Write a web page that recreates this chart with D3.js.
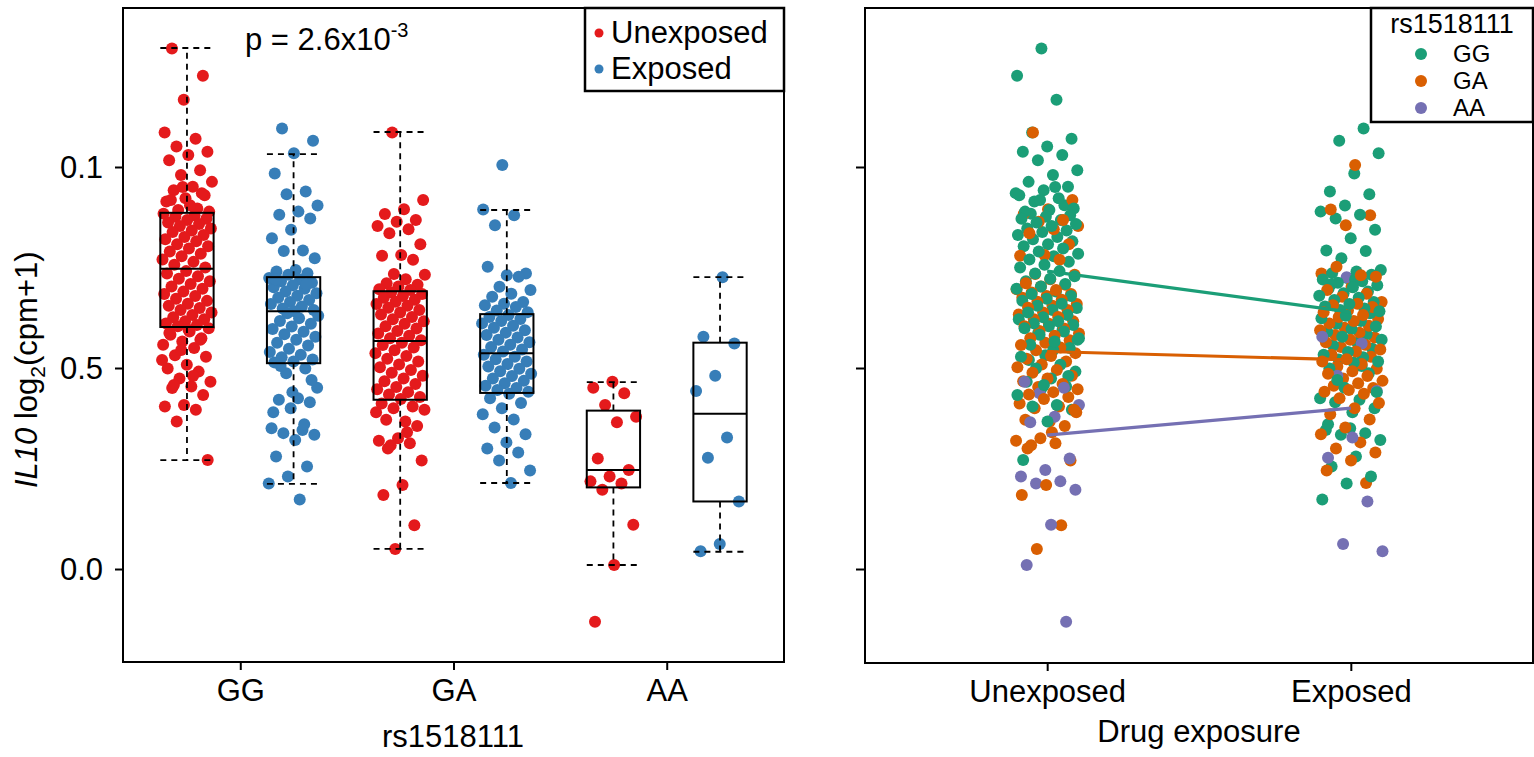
<!DOCTYPE html>
<html>
<head>
<meta charset="utf-8">
<script src="https://cdn.jsdelivr.net/npm/d3@7"></script>
<style>
  body { margin: 0; background: #fff; }
  text { font-family: "Liberation Sans", Arial, Helvetica, sans-serif; fill: #000; }
</style>
</head>
<body>
<div id="chart"></div>
<script>
// categories
const genotypes = ["GG", "GA", "AA"];
const exposures = ["Unexposed", "Exposed"];

// IL10 log2(cpm+1) per genotype / exposure group
const ggUnexposed = [1.295, 1.227, 1.167, 1.086, 1.070, 1.051, 1.038, 1.030, 1.017, 0.992, 0.980, 0.963,
  0.951, 0.942, 0.930, 0.922, 0.914, 0.897, 0.893, 0.889, 0.905, 0.918, 0.935, 0.950,
  0.884, 0.880, 0.876, 0.871, 0.868, 0.862, 0.858, 0.853, 0.847, 0.842, 0.838, 0.831, 0.826,
  0.820, 0.815, 0.808, 0.803, 0.797, 0.790, 0.784, 0.778, 0.770, 0.764, 0.757, 0.750,
  0.741, 0.735, 0.728, 0.722, 0.716, 0.709, 0.703, 0.697, 0.690, 0.684, 0.679, 0.672, 0.667,
  0.660, 0.655, 0.649, 0.644, 0.638, 0.632, 0.626, 0.621, 0.616, 0.611, 0.607, 0.604,
  0.599, 0.591, 0.583, 0.574, 0.566, 0.558, 0.550, 0.532, 0.528, 0.508, 0.499, 0.491, 0.474,
  0.466, 0.454, 0.450, 0.433, 0.408, 0.404, 0.396, 0.367, 0.271, 0.595, 0.587, 0.570, 0.545,
  0.520, 0.480, 0.458];
const ggExposed = [1.096, 1.065, 1.034, 0.984, 0.939, 0.932, 0.904, 0.889, 0.881, 0.872, 0.844, 0.823,
  0.792, 0.791, 0.773, 0.744, 0.740, 0.736, 0.732,
  0.724, 0.720, 0.716, 0.712, 0.706, 0.701, 0.697, 0.690, 0.686, 0.680, 0.675, 0.669, 0.664,
  0.659, 0.653, 0.648, 0.644, 0.641, 0.720, 0.708,
  0.636, 0.630, 0.624, 0.617, 0.610, 0.603, 0.597, 0.590, 0.584, 0.578, 0.570, 0.563, 0.556,
  0.548, 0.540, 0.533, 0.527, 0.521, 0.516, 0.514,
  0.499, 0.487, 0.451, 0.425, 0.421, 0.415, 0.400, 0.350, 0.346, 0.338, 0.334, 0.321, 0.280,
  0.255, 0.230, 0.213, 0.173, 0.505, 0.470, 0.440, 0.390, 0.360];
const gaUnexposed = [1.086, 0.918, 0.895, 0.883, 0.868, 0.864, 0.853, 0.845, 0.835, 0.808, 0.781, 0.779,
  0.769, 0.734, 0.732, 0.721, 0.711, 0.707, 0.703, 0.696, 0.694,
  0.688, 0.684, 0.679, 0.675, 0.670, 0.665, 0.659, 0.655, 0.650, 0.644, 0.638, 0.633, 0.627,
  0.621, 0.616, 0.610, 0.604, 0.598, 0.592, 0.586, 0.580, 0.574, 0.569,
  0.563, 0.557, 0.551, 0.544, 0.537, 0.530, 0.523, 0.516, 0.509, 0.502, 0.495, 0.488, 0.481,
  0.474, 0.467, 0.460, 0.453, 0.447, 0.440, 0.434, 0.428, 0.423,
  0.412, 0.404, 0.400, 0.396, 0.367, 0.371, 0.356, 0.325, 0.319, 0.313, 0.308, 0.270, 0.209,
  0.184, 0.109, 0.050, 0.390, 0.340, 0.300];
const gaExposed = [1.005, 0.894, 0.880, 0.855, 0.735, 0.731, 0.752, 0.727, 0.702, 0.694, 0.685, 0.677,
  0.664, 0.660, 0.656, 0.652, 0.643, 0.639,
  0.632, 0.627, 0.622, 0.617, 0.611, 0.605, 0.600, 0.594, 0.588, 0.582, 0.576, 0.570, 0.564,
  0.558, 0.552, 0.546, 0.541,
  0.533, 0.528, 0.522, 0.516, 0.510, 0.504, 0.498, 0.492, 0.486, 0.480, 0.474, 0.468, 0.462,
  0.456, 0.450, 0.445, 0.441,
  0.436, 0.425, 0.413, 0.400, 0.385, 0.372, 0.352, 0.335, 0.315, 0.300, 0.290, 0.270, 0.245, 0.214];
const aaUnexposed = [0.466, 0.451, 0.437, 0.408, 0.379, 0.365, 0.275, 0.246, 0.230, 0.218, 0.213, 0.197,
  0.110, 0.010, -0.131];
const aaExposed = [0.726, 0.578, 0.561, 0.481, 0.443, 0.327, 0.277, 0.168, 0.062, 0.044];

// boxplot statistics, order GG-U, GG-E, GA-U, GA-E, AA-U, AA-E
const boxLow    = [0.271, 0.212, 0.050, 0.214, 0.010, 0.043];
const boxQ1     = [0.602, 0.512, 0.421, 0.438, 0.203, 0.168];
const boxMedian = [0.747, 0.641, 0.567, 0.537, 0.246, 0.386];
const boxQ3     = [0.886, 0.726, 0.691, 0.634, 0.394, 0.563];
const boxHigh   = [1.296, 1.032, 1.087, 0.893, 0.465, 0.726];

// group means per genotype (right panel lines)
const meanUnexposed = [0.741, 0.541, 0.333];
const meanExposed   = [0.639, 0.520, 0.400];

const yTicks = [0, 0.5, 1];
const yTickLabels = ["0.0", "0.5", "0.1"];
const pLabel = "p = 2.6x10";
const pExponent = "-3";

const exposureColors = ["#E41A1C", "#377EB8"];
const genotypeColors = ["#1B9E77", "#D95F02", "#7570B3"];

const groups = [
  [ggUnexposed, ggExposed],
  [gaUnexposed, gaExposed],
  [aaUnexposed, aaExposed]
];

const W = 1534, H = 757;
const svg = d3.select("#chart").append("svg")
  .attr("width", W).attr("height", H);

const y = d3.scaleLinear().domain([-0.2313, 1.3955]).range([662, 8]);
const xL = d3.scaleLinear().domain([0.4, 6.6]).range([123, 784]);
const xR = d3.scaleLinear().domain([0.4, 2.6]).range([865, 1533]);

// deterministic spread for jitter (golden ratio sequence)
function spread(i, seed) {
  const f = (i * 0.6180339887 + seed) % 1;
  return f * 2 - 1;
}

// flatten points
const pts = [];
groups.forEach((pair, g) => {
  pair.forEach((vals, e) => {
    vals.forEach((v, i) => {
      pts.push({ g, e, v, i, box: g * 2 + e + 1 });
    });
  });
});

// ---- left panel ----
const left = svg.append("g");

left.selectAll("circle.pt")
  .data(pts)
  .enter().append("circle")
  .attr("class", "pt")
  .attr("cx", d => xL(d.box + 0.235 * spread(d.i, 0.13 + d.box * 0.07)))
  .attr("cy", d => y(d.v))
  .attr("r", 6)
  .attr("fill", d => exposureColors[d.e]);

const boxes = left.selectAll("g.box")
  .data(boxMedian.map((m, i) => i))
  .enter().append("g").attr("class", "box");

const bw = 0.25;
boxes.append("line") // upper whisker
  .attr("x1", i => xL(i + 1)).attr("x2", i => xL(i + 1))
  .attr("y1", i => y(boxQ3[i])).attr("y2", i => y(boxHigh[i]));
boxes.append("line")
  .attr("x1", i => xL(i + 1)).attr("x2", i => xL(i + 1))
  .attr("y1", i => y(boxQ1[i])).attr("y2", i => y(boxLow[i]));
boxes.append("line")
  .attr("x1", i => xL(i + 1 - bw)).attr("x2", i => xL(i + 1 + bw))
  .attr("y1", i => y(boxHigh[i])).attr("y2", i => y(boxHigh[i]));
boxes.append("line")
  .attr("x1", i => xL(i + 1 - bw)).attr("x2", i => xL(i + 1 + bw))
  .attr("y1", i => y(boxLow[i])).attr("y2", i => y(boxLow[i]));
boxes.selectAll("line")
  .attr("stroke", "#000").attr("stroke-width", 1.8).attr("stroke-dasharray", "6,5");

boxes.append("rect")
  .attr("x", i => xL(i + 1 - bw))
  .attr("width", i => xL(i + 1 + bw) - xL(i + 1 - bw))
  .attr("y", i => y(boxQ3[i]))
  .attr("height", i => y(boxQ1[i]) - y(boxQ3[i]))
  .attr("fill", "none").attr("stroke", "#000").attr("stroke-width", 2);
boxes.append("line")
  .attr("x1", i => xL(i + 1 - bw)).attr("x2", i => xL(i + 1 + bw))
  .attr("y1", i => y(boxMedian[i])).attr("y2", i => y(boxMedian[i]))
  .attr("stroke", "#000").attr("stroke-width", 2);

// frame + axes
left.append("rect").attr("x", 123).attr("y", 8).attr("width", 661).attr("height", 654)
  .attr("fill", "none").attr("stroke", "#000").attr("stroke-width", 2);

const yAxisL = left.append("g").attr("transform", "translate(123,0)")
  .call(d3.axisLeft(y).tickValues(yTicks).tickFormat((d, i) => yTickLabels[i]).tickSize(8).tickPadding(12));
const xAxisL = left.append("g").attr("transform", "translate(0,662)")
  .call(d3.axisBottom(xL).tickValues([1.5, 3.5, 5.5]).tickFormat((d, i) => genotypes[i]).tickSize(8).tickPadding(8));

[yAxisL, xAxisL].forEach(a => {
  a.select(".domain").remove();
  a.selectAll("line").attr("stroke", "#000").attr("stroke-width", 2);
  a.selectAll("text").attr("font-size", 31).attr("fill", "#000")
    .style("font-family", '"Liberation Sans", Arial, sans-serif');
});
yAxisL.selectAll("text").attr("dy", "0.35em");
xAxisL.selectAll("text").attr("dy", "0.75em");

// y label
const yl = left.append("text")
  .attr("transform", "translate(37,488) rotate(-90)")
  .attr("font-size", 31);
yl.append("tspan").attr("font-style", "italic").text("IL10");
yl.append("tspan").text(" log");
yl.append("tspan").attr("font-size", 21).attr("dy", 8).text("2");
yl.append("tspan").attr("dy", -8).text("(cpm+1)");

left.append("text").attr("x", 453).attr("y", 747).attr("text-anchor", "middle")
  .attr("font-size", 31).text("rs1518111");

// p value
const pt = left.append("text").attr("x", 245).attr("y", 50).attr("font-size", 31);
pt.append("tspan").text(pLabel);
pt.append("tspan").attr("font-size", 20).attr("dy", -13).text(pExponent);

// legend left
const legL = left.append("g");
legL.append("rect").attr("x", 585).attr("y", 8).attr("width", 199).attr("height", 83)
  .attr("fill", "#fff").attr("stroke", "#000").attr("stroke-width", 2.5);
exposures.forEach((e, i) => {
  legL.append("circle").attr("cx", 599).attr("cy", 33 + i * 36).attr("r", 4.5).attr("fill", exposureColors[i]);
  legL.append("text").attr("x", 611).attr("y", 43 + i * 36).attr("font-size", 31).text(e);
});

// ---- right panel ----
const right = svg.append("g");

const order = pts.map((d, k) => ({ d, k: (k * 0.7548776662) % 1 }))
  .sort((a, b) => a.k - b.k).map(o => o.d);

right.selectAll("circle.pt")
  .data(order)
  .enter().append("circle")
  .attr("class", "pt")
  .attr("cx", d => xR(d.e + 1 + 0.105 * spread(d.i + d.g * 37, 0.41 + d.e * 0.29)))
  .attr("cy", d => y(d.v))
  .attr("r", 6)
  .attr("fill", d => genotypeColors[d.g]);

right.selectAll("line.mean")
  .data(genotypes.map((g, i) => i))
  .enter().append("line")
  .attr("class", "mean")
  .attr("x1", xR(1)).attr("x2", xR(2))
  .attr("y1", i => y(meanUnexposed[i])).attr("y2", i => y(meanExposed[i]))
  .attr("stroke", i => genotypeColors[i]).attr("stroke-width", 3.2);

right.append("rect").attr("x", 865).attr("y", 8).attr("width", 668).attr("height", 655)
  .attr("fill", "none").attr("stroke", "#000").attr("stroke-width", 2);

const yAxisR = right.append("g").attr("transform", "translate(865,0)")
  .call(d3.axisLeft(y).tickValues(yTicks).tickFormat("").tickSize(9));
const xAxisR = right.append("g").attr("transform", "translate(0,663)")
  .call(d3.axisBottom(xR).tickValues([1, 2]).tickFormat((d, i) => exposures[i]).tickSize(8).tickPadding(8));
[yAxisR, xAxisR].forEach(a => {
  a.select(".domain").remove();
  a.selectAll("line").attr("stroke", "#000").attr("stroke-width", 2);
  a.selectAll("text").attr("font-size", 31).attr("fill", "#000")
    .style("font-family", '"Liberation Sans", Arial, sans-serif');
});
xAxisR.selectAll("text").attr("dy", "0.75em");

right.append("text").attr("x", 1199).attr("y", 742).attr("text-anchor", "middle")
  .attr("font-size", 31).text("Drug exposure");

// legend right
const legR = right.append("g");
legR.append("rect").attr("x", 1371).attr("y", 8).attr("width", 162).attr("height", 114)
  .attr("fill", "#fff").attr("stroke", "#000").attr("stroke-width", 2.5);
legR.append("text").attr("x", 1452).attr("y", 33).attr("text-anchor", "middle")
  .attr("font-size", 27).text("rs1518111");
genotypes.forEach((g, i) => {
  legR.append("circle").attr("cx", 1421).attr("cy", 54 + i * 27).attr("r", 6).attr("fill", genotypeColors[i]);
  legR.append("text").attr("x", 1453).attr("y", 62 + i * 27).attr("font-size", 24).text(g);
});
</script>
</body>
</html>
